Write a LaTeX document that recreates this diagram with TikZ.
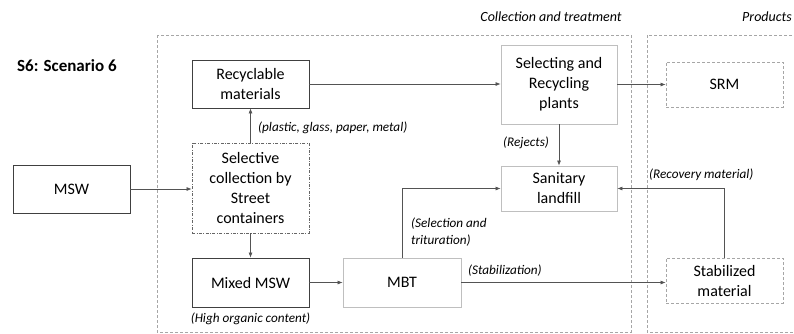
\documentclass[tikz,border=0pt]{standalone}
\usepackage{fontspec}
\setmainfont{Carlito}
\usetikzlibrary{arrows.meta,calc}
\definecolor{edge}{HTML}{404040}
\definecolor{soft}{HTML}{BFBFBF}
\definecolor{grp}{HTML}{A6A6A6}
\begin{document}
\begin{tikzpicture}[x=1pt,y=-1pt,
  box/.style={draw=edge,line width=0.8pt,rectangle,align=center,inner sep=0pt,
    font=\fontsize{16}{20}\selectfont,text=black},
  plain/.style={box},
  light/.style={box,draw=soft},
  dashbox/.style={box,draw=grp,dash pattern=on 3pt off 2pt},
  dotbox/.style={box,draw=edge!80,dash pattern=on 3pt off 1.5pt on 0.8pt off 1.5pt},
  group/.style={draw=grp,line width=0.7pt,dash pattern=on 3pt off 2pt},
  flow/.style={draw=edge!90,line width=0.7pt,-{Latex[length=5pt,width=4pt]}},
  note/.style={font=\itshape\fontsize{13.2}{17}\selectfont,inner sep=0pt,align=left,text=black},
  title/.style={font=\itshape\fontsize{14}{16}\selectfont,inner sep=0pt,text=black}]
\useasboundingbox (0,0) rectangle (794,333);

% enclosing stages
\draw[group] (157,35) rectangle (631,332);
\draw[group] (647,35) rectangle (810,332);
\node[title] (tcol) at (551,17) {Collection and treatment};
\node[title,anchor=west] (tprod) at (742,17) {Products};
\node[anchor=west,inner sep=0pt,font=\bfseries\fontsize{17}{20}\selectfont] (scen) at (17,66) {S6: Scenario 6};

% boxes
\node[plain,minimum width=117,minimum height=48] (rec) at (250.5,84) {Recyclable\\materials};
\node[light,minimum width=116,minimum height=79] (sel) at (559,84.5) {Selecting and\\Recycling\\plants};
\node[dashbox,minimum width=117,minimum height=45] (srm) at (724.5,84.5) {SRM};
\node[dotbox,minimum width=117,minimum height=90] (col) at (250.5,188) {Selective\\collection by\\Street\\containers};
\node[plain,minimum width=117,minimum height=48] (msw) at (71.5,189) {MSW};
\node[plain,minimum width=117,minimum height=49] (mix) at (250.5,282.5) {Mixed MSW};
\node[light,minimum width=118,minimum height=49] (mbt) at (402,282.5) {MBT};
\node[light,minimum width=116,minimum height=45] (land) at (559,188.5) {Sanitary\\landfill};
\node[dashbox,minimum width=117,minimum height=45] (stab) at (724.5,280.5) {Stabilized\\material};

% flows
\draw[flow] (rec.east) -- (rec.east -| sel.west);
\draw[flow] (sel.east) -- (sel.east -| srm.west);
\draw[flow] (sel.south) -- (land.north);
\draw[flow] (col.north) -- (rec.south);
\draw[flow] (msw.east) -- (msw.east -| col.west);
\draw[flow] (col.south) -- (mix.north);
\draw[flow] (mix.east) -- (mix.east -| mbt.west);
\draw[flow] (mbt.north) |- (land.west);
\draw[flow] (mbt.east) -- (mbt.east -| stab.west);
\draw[flow] (stab.north) |- (land.east);

% flow notes
\node[note,anchor=west] (n1) at (258,128) {(plastic, glass, paper, metal)};
\node[note,anchor=west] (n2) at (503,143) {(Rejects)};
\node[note,anchor=west] (n3) at (649,175) {(Recovery material)};
\node[note,anchor=west] (n4) at (411,232) {(Selection and\\trituration)};
\node[note,anchor=west] (n5) at (468,271) {(Stabilization)};
\node[note] (n6) at (250.5,319) {(High organic content)};
\end{tikzpicture}
\end{document}
